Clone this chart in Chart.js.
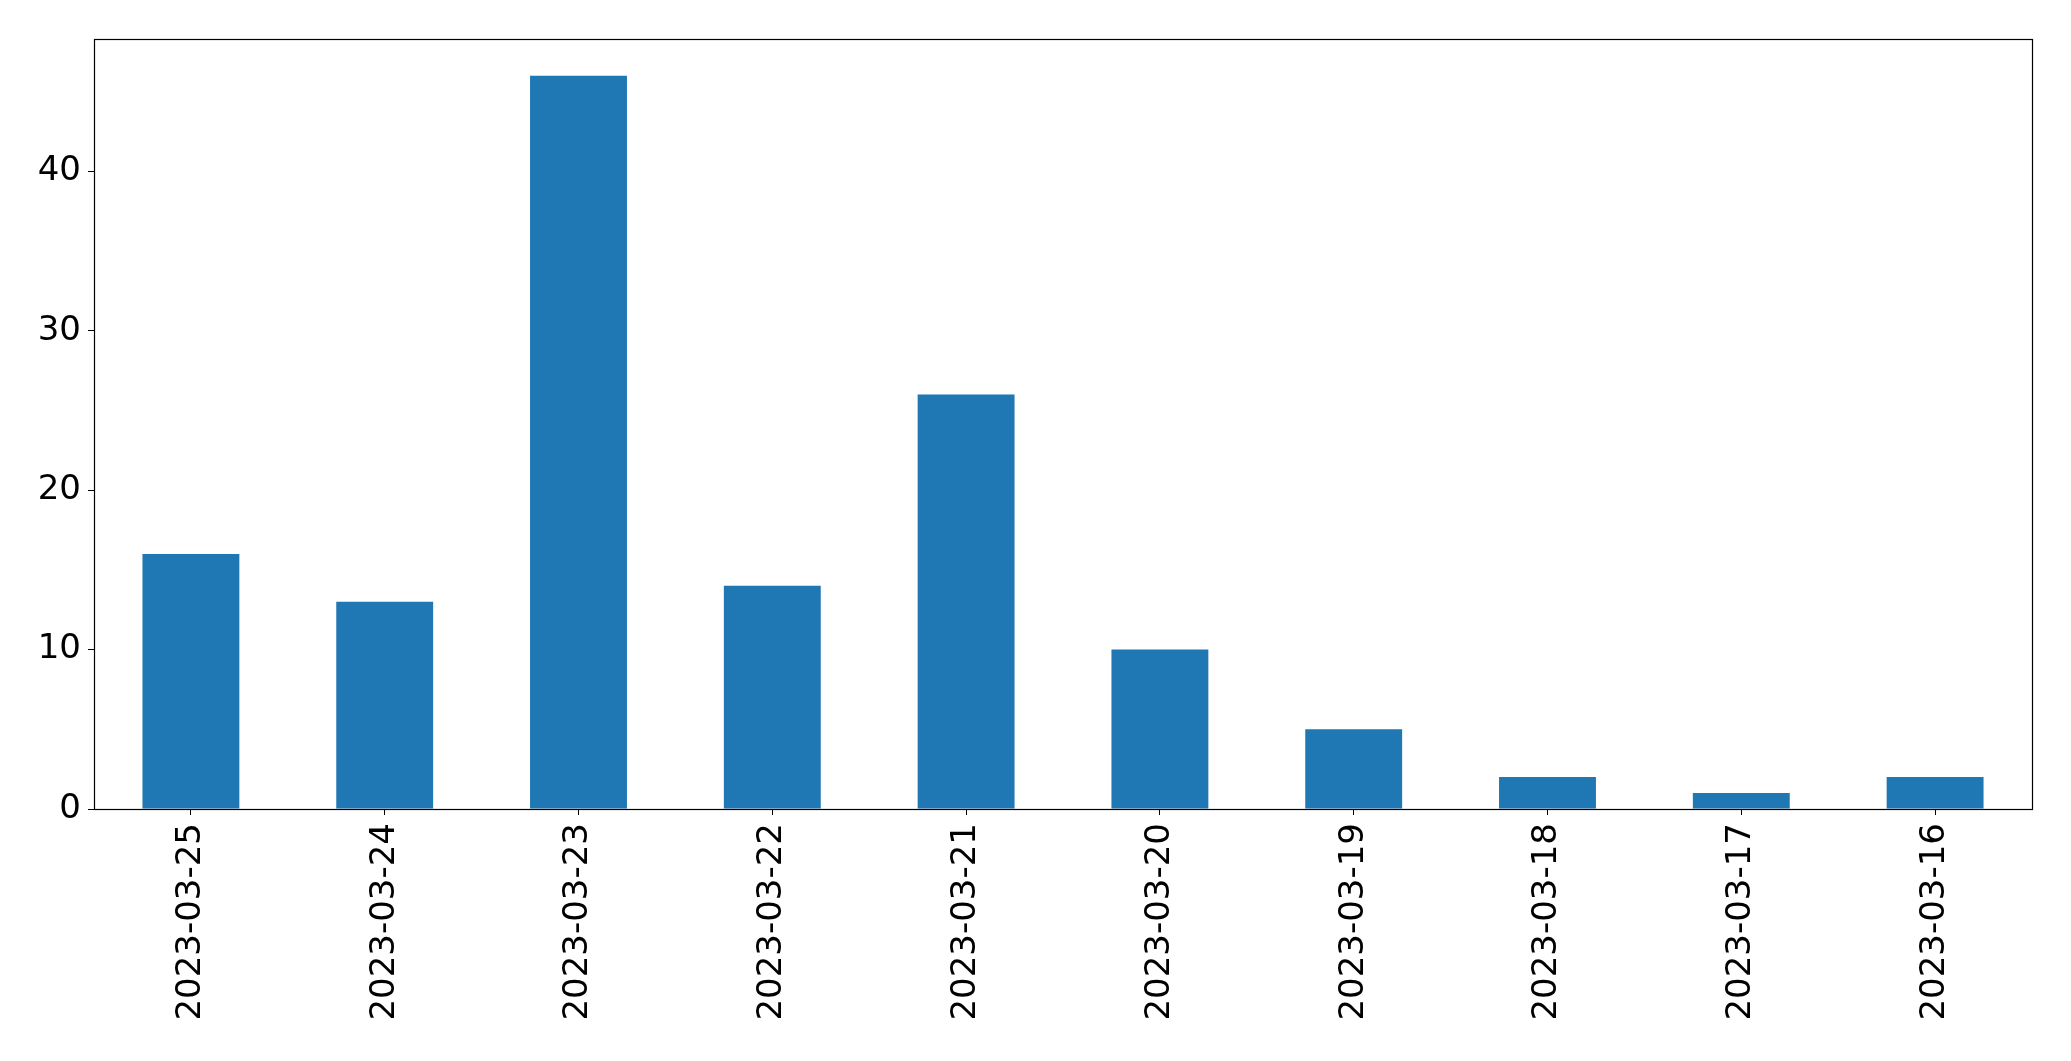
<!DOCTYPE html>
<html>
<head>
<meta charset="utf-8">
<script src="https://cdn.jsdelivr.net/npm/chart.js@4"></script>
<style>
  html, body { margin: 0; padding: 0; background: #fff; }
  #wrap { width: 2071px; height: 1061px; }
</style>
</head>
<body>
<div id="wrap"><canvas id="chart" width="2071" height="1061"></canvas></div>
<script>
// values
const dates = ['2023-03-25', '2023-03-24', '2023-03-23', '2023-03-22', '2023-03-21',
               '2023-03-20', '2023-03-19', '2023-03-18', '2023-03-17', '2023-03-16'];
const counts = [16, 13, 46, 14, 26, 10, 5, 2, 1, 2];
const yTicks = [0, 10, 20, 30, 40];

//Draws the black frame round the plot area, like matplotlib's spines
const frameBox = {
    id: 'frameBox',
    afterDraw(chart){
        const a = chart.chartArea;
        const ctx = chart.ctx;
        const l = Math.round(a.left) + 0.5, t = Math.round(a.top) + 0.5;
        const r = Math.round(a.right) + 0.5, b = Math.round(a.bottom) + 0.5;
        ctx.save();
        ctx.strokeStyle = '#000';
        ctx.lineWidth = 1.2;
        ctx.strokeRect(l, t, r - l, b - t);
        ctx.restore();
    }
};

Chart.defaults.font.family = "'DejaVu Sans', sans-serif";
Chart.defaults.color = '#000';

const barChart = new Chart('chart', {
    type: 'bar',
    data: {
        labels: dates,
        datasets: [{
            data: counts,
            backgroundColor: '#1f77b4',
            borderWidth: 0,
            barPercentage: 0.5,
            categoryPercentage: 1.0
        }]
    },
    options: {
        responsive: false,
        animation: false,
        layout: { padding: { left: 0, top: 39, right: 39, bottom: 0 } },
        plugins: {
            legend: { display: false },
            tooltip: { enabled: false }
        },
        scales: {
            x: {
                offset: true,
                grid: { display: true, offset: false, drawOnChartArea: false, tickLength: 6, color: '#000', tickWidth: 1 },
                border: { display: false },
                ticks: { font: { size: 34 }, minRotation: 90, maxRotation: 90, padding: 8, autoSkip: false },
                afterFit(scale){ scale.height = 252; }
            },
            y: {
                min: 0,
                max: 48.3,
                grid: { display: true, drawOnChartArea: false, tickLength: 6, color: '#000', tickWidth: 1 },
                border: { display: false },
                ticks: {
                    font: { size: 34 },
                    padding: 7,
                    includeBounds: false,
                    stepSize: 10,
                    callback: (v) => yTicks.includes(v) ? v : ''
                },
                afterFit(scale){ scale.width = 94; }
            }
        }
    },
    plugins: [frameBox]
});
</script>
</body>
</html>
